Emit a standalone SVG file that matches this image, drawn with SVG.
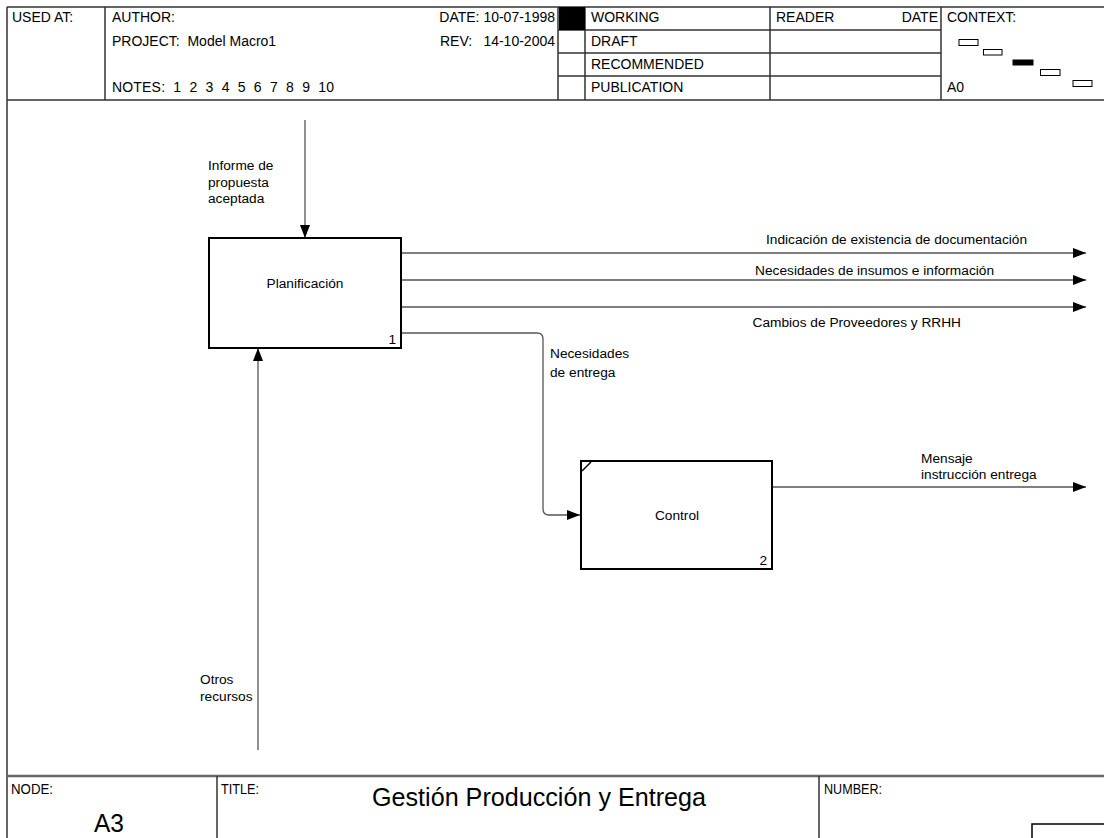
<svg xmlns="http://www.w3.org/2000/svg" width="1104" height="838" viewBox="0 0 1104 838">
  <style>
    text { font-family: "Liberation Sans", Arial, sans-serif; fill: #000; }
    .hdr { font-size: 14px; }
    .lbl { font-size: 13.7px; }
    .frame { stroke: #333; stroke-width: 1.5; fill: none; }
    .box { stroke: #000; stroke-width: 2; fill: #fff; }
    .conn { stroke: #555; stroke-width: 1.3; fill: none; }
    .ctx { stroke: #000; stroke-width: 1; fill: #fff; }
    .foot { font-size: 14px; }
  </style>
  <defs>
    <marker id="arrow" markerUnits="userSpaceOnUse" markerWidth="14" markerHeight="12" refX="13" refY="5" orient="auto">
      <path d="M0,0 L13,5 L0,10 Z" fill="#000"/>
    </marker>
  </defs>

  <rect width="1104" height="838" fill="#fff"/>

  <!-- header frame -->
  <g id="header">
    <path class="frame" d="M7,7 H1104 M7,7 V838 M7,100 H1104 M105,7 V100 M558,7 V100 M585,7 V100 M770,7 V100 M941,7 V100 M558,30 H941 M558,53 H941 M558,76 H941"/>
    <rect x="559" y="7" width="26" height="23" fill="#000"/>
    <text class="hdr" x="12" y="22">USED AT:</text>
    <text class="hdr" x="112" y="22">AUTHOR:</text>
    <text class="hdr" x="112" y="46" xml:space="preserve">PROJECT:  Model Macro1</text>
    <text class="hdr" x="112" y="92" xml:space="preserve" textLength="222" lengthAdjust="spacing">NOTES:  1  2  3  4  5  6  7  8  9  10</text>
    <text class="hdr" x="555" y="22" text-anchor="end">DATE: 10-07-1998</text>
    <text class="hdr" x="440" y="46">REV:</text>
    <text class="hdr" x="555" y="46" text-anchor="end">14-10-2004</text>
    <text class="hdr" x="591" y="22">WORKING</text>
    <text class="hdr" x="591" y="46">DRAFT</text>
    <text class="hdr" x="591" y="69">RECOMMENDED</text>
    <text class="hdr" x="591" y="92">PUBLICATION</text>
    <text class="hdr" x="776" y="22">READER</text>
    <text class="hdr" x="938" y="22" text-anchor="end">DATE</text>
    <text class="hdr" x="947" y="22">CONTEXT:</text>
    <text class="hdr" x="947" y="92">A0</text>
    <rect class="ctx" x="959" y="39.5" width="19" height="6"/>
    <rect class="ctx" x="983.5" y="49.5" width="18.5" height="5.5"/>
    <rect x="1012.5" y="59.5" width="21" height="6" fill="#000"/>
    <rect class="ctx" x="1040.5" y="69.5" width="19.5" height="6"/>
    <rect class="ctx" x="1073" y="80.5" width="19" height="6"/>
  </g>

  <!-- connectors -->
  <g id="connectors">
    <path class="conn" d="M305,120 V238" marker-end="url(#arrow)"/>
    <path class="conn" d="M258,750 V348" marker-end="url(#arrow)"/>
    <path class="conn" d="M401,253 H1086" marker-end="url(#arrow)"/>
    <path class="conn" d="M401,280 H1086" marker-end="url(#arrow)"/>
    <path class="conn" d="M401,307 H1086" marker-end="url(#arrow)"/>
    <path class="conn" d="M401,333 H537 Q543,333 543,339 V509 Q543,515 549,515 H580" marker-end="url(#arrow)"/>
    <path class="conn" d="M772,487 H1086" marker-end="url(#arrow)"/>

    <text class="lbl" x="208" y="170">Informe de</text>
    <text class="lbl" x="208" y="187">propuesta</text>
    <text class="lbl" x="208" y="203">aceptada</text>
    <text class="lbl" x="1027" y="244" text-anchor="end">Indicación de existencia de documentación</text>
    <text class="lbl" x="994" y="275" text-anchor="end">Necesidades de insumos e información</text>
    <text class="lbl" x="961" y="327" text-anchor="end">Cambios de Proveedores y RRHH</text>
    <text class="lbl" x="550" y="358">Necesidades</text>
    <text class="lbl" x="550" y="377">de entrega</text>
    <text class="lbl" x="921" y="463">Mensaje</text>
    <text class="lbl" x="921" y="479">instrucción entrega</text>
    <text class="lbl" x="200" y="684">Otros</text>
    <text class="lbl" x="200" y="701">recursos</text>
  </g>

  <!-- activity boxes -->
  <g id="node-planificacion">
    <rect class="box" x="209" y="238" width="192" height="110"/>
    <text class="lbl" x="305" y="288" text-anchor="middle">Planificación</text>
    <text class="lbl" x="396" y="344" text-anchor="end">1</text>
  </g>
  <g id="node-control">
    <rect class="box" x="581" y="461" width="191" height="108"/>
    <path d="M582,471 L591,462" stroke="#000" stroke-width="1.5"/>
    <text class="lbl" x="677" y="520" text-anchor="middle">Control</text>
    <text class="lbl" x="767" y="565" text-anchor="end">2</text>
  </g>

  <!-- title block -->
  <g id="title-block">
    <path d="M7,776 H1104" stroke="#666" stroke-width="2.5"/>
    <path class="frame" d="M217,776 V838 M819,776 V838"/>
    <rect x="1032" y="824" width="80" height="30" fill="none" stroke="#000" stroke-width="1.5"/>
    <text class="foot" x="11" y="794" textLength="42" lengthAdjust="spacingAndGlyphs">NODE:</text>
    <text class="foot" x="221" y="794" textLength="38" lengthAdjust="spacingAndGlyphs">TITLE:</text>
    <text class="foot" x="824" y="794" textLength="58" lengthAdjust="spacingAndGlyphs">NUMBER:</text>
    <text x="94" y="832" font-size="25" textLength="30" lengthAdjust="spacingAndGlyphs">A3</text>
    <text x="372" y="806" font-size="25" textLength="334" lengthAdjust="spacingAndGlyphs">Gestión Producción y Entrega</text>
  </g>
</svg>
